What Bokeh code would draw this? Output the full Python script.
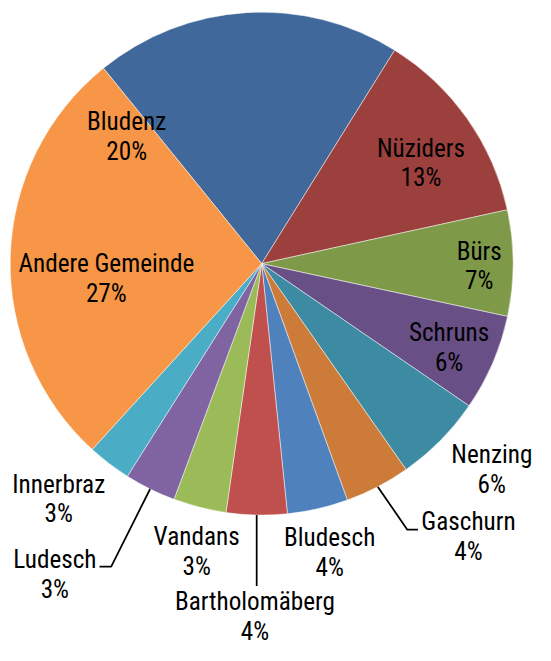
import math
from bokeh.plotting import figure
from bokeh.models import Range1d, ColumnDataSource
from bokeh.core.properties import value
from bokeh.embed import file_html
from bokeh.resources import INLINE

# ---- data ----
names = ["Bludenz", "Nüziders", "Bürs", "Schruns", "Nenzing", "Gaschurn",
         "Bludesch", "Bartholomäberg", "Vandans", "Ludesch", "Innerbraz",
         "Andere Gemeinde"]
shares = [19.7, 12.7, 6.8, 6.2, 5.7, 4.2, 3.9, 3.9, 3.4, 3.3, 2.8, 27.4]

# ---- style / layout ----
colors = ["#41689A", "#9C403E", "#7E9A48", "#684F86", "#3C8BA3", "#CC7B38",
          "#4F81BD", "#C0504D", "#9BBB59", "#8064A2", "#4BACC6", "#F79646"]
W, H = 535, 645
REF_W, REF_H = 551, 661          # layout units
S = W / REF_W                    # px per layout unit
CX, CY_SCREEN, R = 269, 271, 259
START_DEG = -39.0  # compass angle of first slice edge (clockwise from 12 o'clock)

def sy(y):
    return REF_H - y  # layout y (down) -> data y (up)

label_pos = [(130, 125), (433, 152), (493, 258), (462, 342), (506, 468),
             (482, 537), (339, 553), (262, 619), (202, 552), (56, 576),
             (60, 498), (109, 271)]
LINE_GAP = 30.5
leaders = {"Gaschurn": [(419, 545), (430, 545)],
           "Ludesch": [(114, 583), (102, 583)],
           "Bartholomäberg": [(None, 603)]}

FONT = "Roboto Condensed, Liberation Sans"
FSIZE = f"{26 * S:.1f}px"

p = figure(width=W, height=H, output_backend="svg", toolbar_location=None,
           x_range=Range1d(0, REF_W), y_range=Range1d(REF_H - H / S, REF_H),
           min_border=0)
p.axis.visible = False
p.grid.visible = False
p.outline_line_color = None
p.background_fill_color = "white"

total = sum(shares)
starts, ends, mids = [], [], []
acc = 0.0
for v in shares:
    a0 = START_DEG + 360.0 * acc / total
    acc += v
    a1 = START_DEG + 360.0 * acc / total
    starts.append(math.radians(90 - a0))
    ends.append(math.radians(90 - a1))
    mids.append((a0 + a1) / 2)

src = ColumnDataSource(dict(start=starts, end=ends, color=colors, name=names,
                            x=[CX] * len(names), y=[sy(CY_SCREEN)] * len(names)))
p.wedge(x="x", y="y", radius=R, start_angle="start", end_angle="end",
        direction="clock", fill_color="color", line_color="white",
        line_width=0.6, line_alpha=0.8, source=src)

# leader lines
for i, nm in enumerate(names):
    if nm in leaders:
        th = math.radians(mids[i])
        rx = CX + R * math.sin(th)
        ry = CY_SCREEN - R * math.cos(th)
        xs, ys = [rx], [sy(ry)]
        for (lx, ly) in leaders[nm]:
            xs.append(rx if lx is None else lx)
            ys.append(sy(ly))
        p.line(xs, ys, line_color="black", line_width=1.75)

# labels
pct = [f"{round(100 * v / total)}%" for v in shares]
lx = [pos[0] for pos in label_pos]
ly1 = [sy(pos[1]) for pos in label_pos]
ly2 = [sy(pos[1] + LINE_GAP) for pos in label_pos]
p.text(x=lx, y=ly1, text=names, text_align="center", text_baseline="middle",
       text_font=value(FONT), text_font_size=FSIZE, text_color="black")
p.text(x=lx, y=ly2, text=pct, text_align="center", text_baseline="middle",
       text_font=value(FONT), text_font_size=FSIZE, text_color="black")

open("out.html", "w").write(file_html(p, INLINE))
